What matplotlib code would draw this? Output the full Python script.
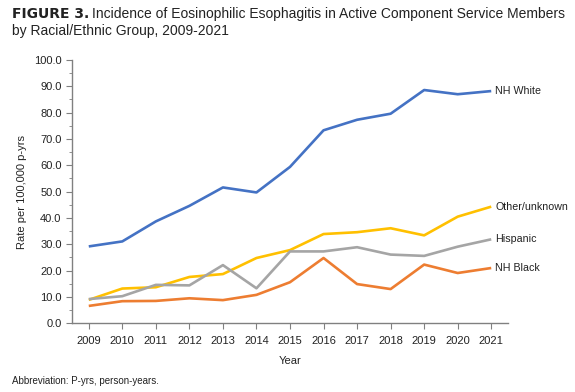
import matplotlib
matplotlib.use('Agg')
import matplotlib.pyplot as plt
from matplotlib.ticker import MultipleLocator, FormatStrFormatter

plt.rcParams['font.family'] = ['Liberation Sans', 'DejaVu Sans']

years = list(range(2009, 2022))

nh_white = [29.2, 31.1, 38.7, 44.6, 51.6, 49.7, 59.4, 73.3, 77.3, 79.6, 88.6, 87.0, 88.2]
other_unknown = [8.9, 13.2, 13.7, 17.6, 18.7, 24.8, 27.8, 33.9, 34.6, 36.1, 33.4, 40.5, 44.3]
hispanic = [9.2, 10.3, 14.6, 14.4, 22.1, 13.3, 27.3, 27.3, 28.9, 26.1, 25.6, 29.1, 31.9]
nh_black = [6.6, 8.4, 8.5, 9.5, 8.8, 10.8, 15.6, 24.8, 14.9, 13.0, 22.3, 19.1, 21.0]

series = [
    ('NH White', nh_white, '#4472C4'),
    ('Other/unknown', other_unknown, '#FFC000'),
    ('Hispanic', hispanic, '#A5A5A5'),
    ('NH Black', nh_black, '#ED7D31'),
]

W, H = 575, 392
fig = plt.figure(figsize=(W / 100, H / 100), dpi=100)
ax = fig.add_axes([72 / W, 1 - 323.3 / H, (508 - 72) / W, (323.3 - 60) / H])

for name, values, color in series:
    ax.plot(years, values, color=color, linewidth=1.9, solid_capstyle='butt')
    ax.annotate(name, xy=(years[-1], values[-1]), xytext=(3, 0),
                textcoords='offset points', va='center', ha='left',
                fontsize=7.7, color='#222222')

ax.set_xlim(2008.5, 2021.5)
ax.set_ylim(0, 100)
ax.set_xticks(years)
ax.yaxis.set_major_locator(MultipleLocator(10))
ax.yaxis.set_minor_locator(MultipleLocator(5))
ax.yaxis.set_major_formatter(FormatStrFormatter('%.1f'))

for side in ['top', 'right']:
    ax.spines[side].set_visible(False)
for side in ['left', 'bottom']:
    ax.spines[side].set_color('#808080')
    ax.spines[side].set_linewidth(1.0)

ax.tick_params(axis='both', which='major', length=4, color='#808080',
               labelsize=8, labelcolor='#222222', direction='out')
ax.tick_params(axis='y', which='minor', length=2.5, color='#808080')
ax.tick_params(axis='x', pad=5)

ax.set_ylabel('Rate per 100,000 p-yrs', fontsize=8, color='#222222', labelpad=5)
ax.set_xlabel('Year', fontsize=8, color='#222222', labelpad=7)

fig.canvas.draw()
renderer = fig.canvas.get_renderer()
t1 = fig.text(12 / W, 1 - 14 / H, 'FIGURE 3.', fontsize=10, fontweight='bold',
              family=['Liberation Sans Narrow', 'DejaVu Sans'], color='#222222',
              va='center', ha='left')
bb = t1.get_window_extent(renderer=renderer)
x_next = (bb.x1 + 3) / W
fig.text(x_next, 1 - 14 / H, 'Incidence of Eosinophilic Esophagitis in Active Component Service Members',
         fontsize=10, color='#222222', va='center', ha='left')
fig.text(12 / W, 1 - 31 / H, 'by Racial/Ethnic Group, 2009-2021',
         fontsize=10, color='#222222', va='center', ha='left')
fig.text(12 / W, 1 - 381 / H, 'Abbreviation: P-yrs, person-years.',
         fontsize=7, color='#222222', va='center', ha='left')

fig.savefig('out.png', dpi=100)
